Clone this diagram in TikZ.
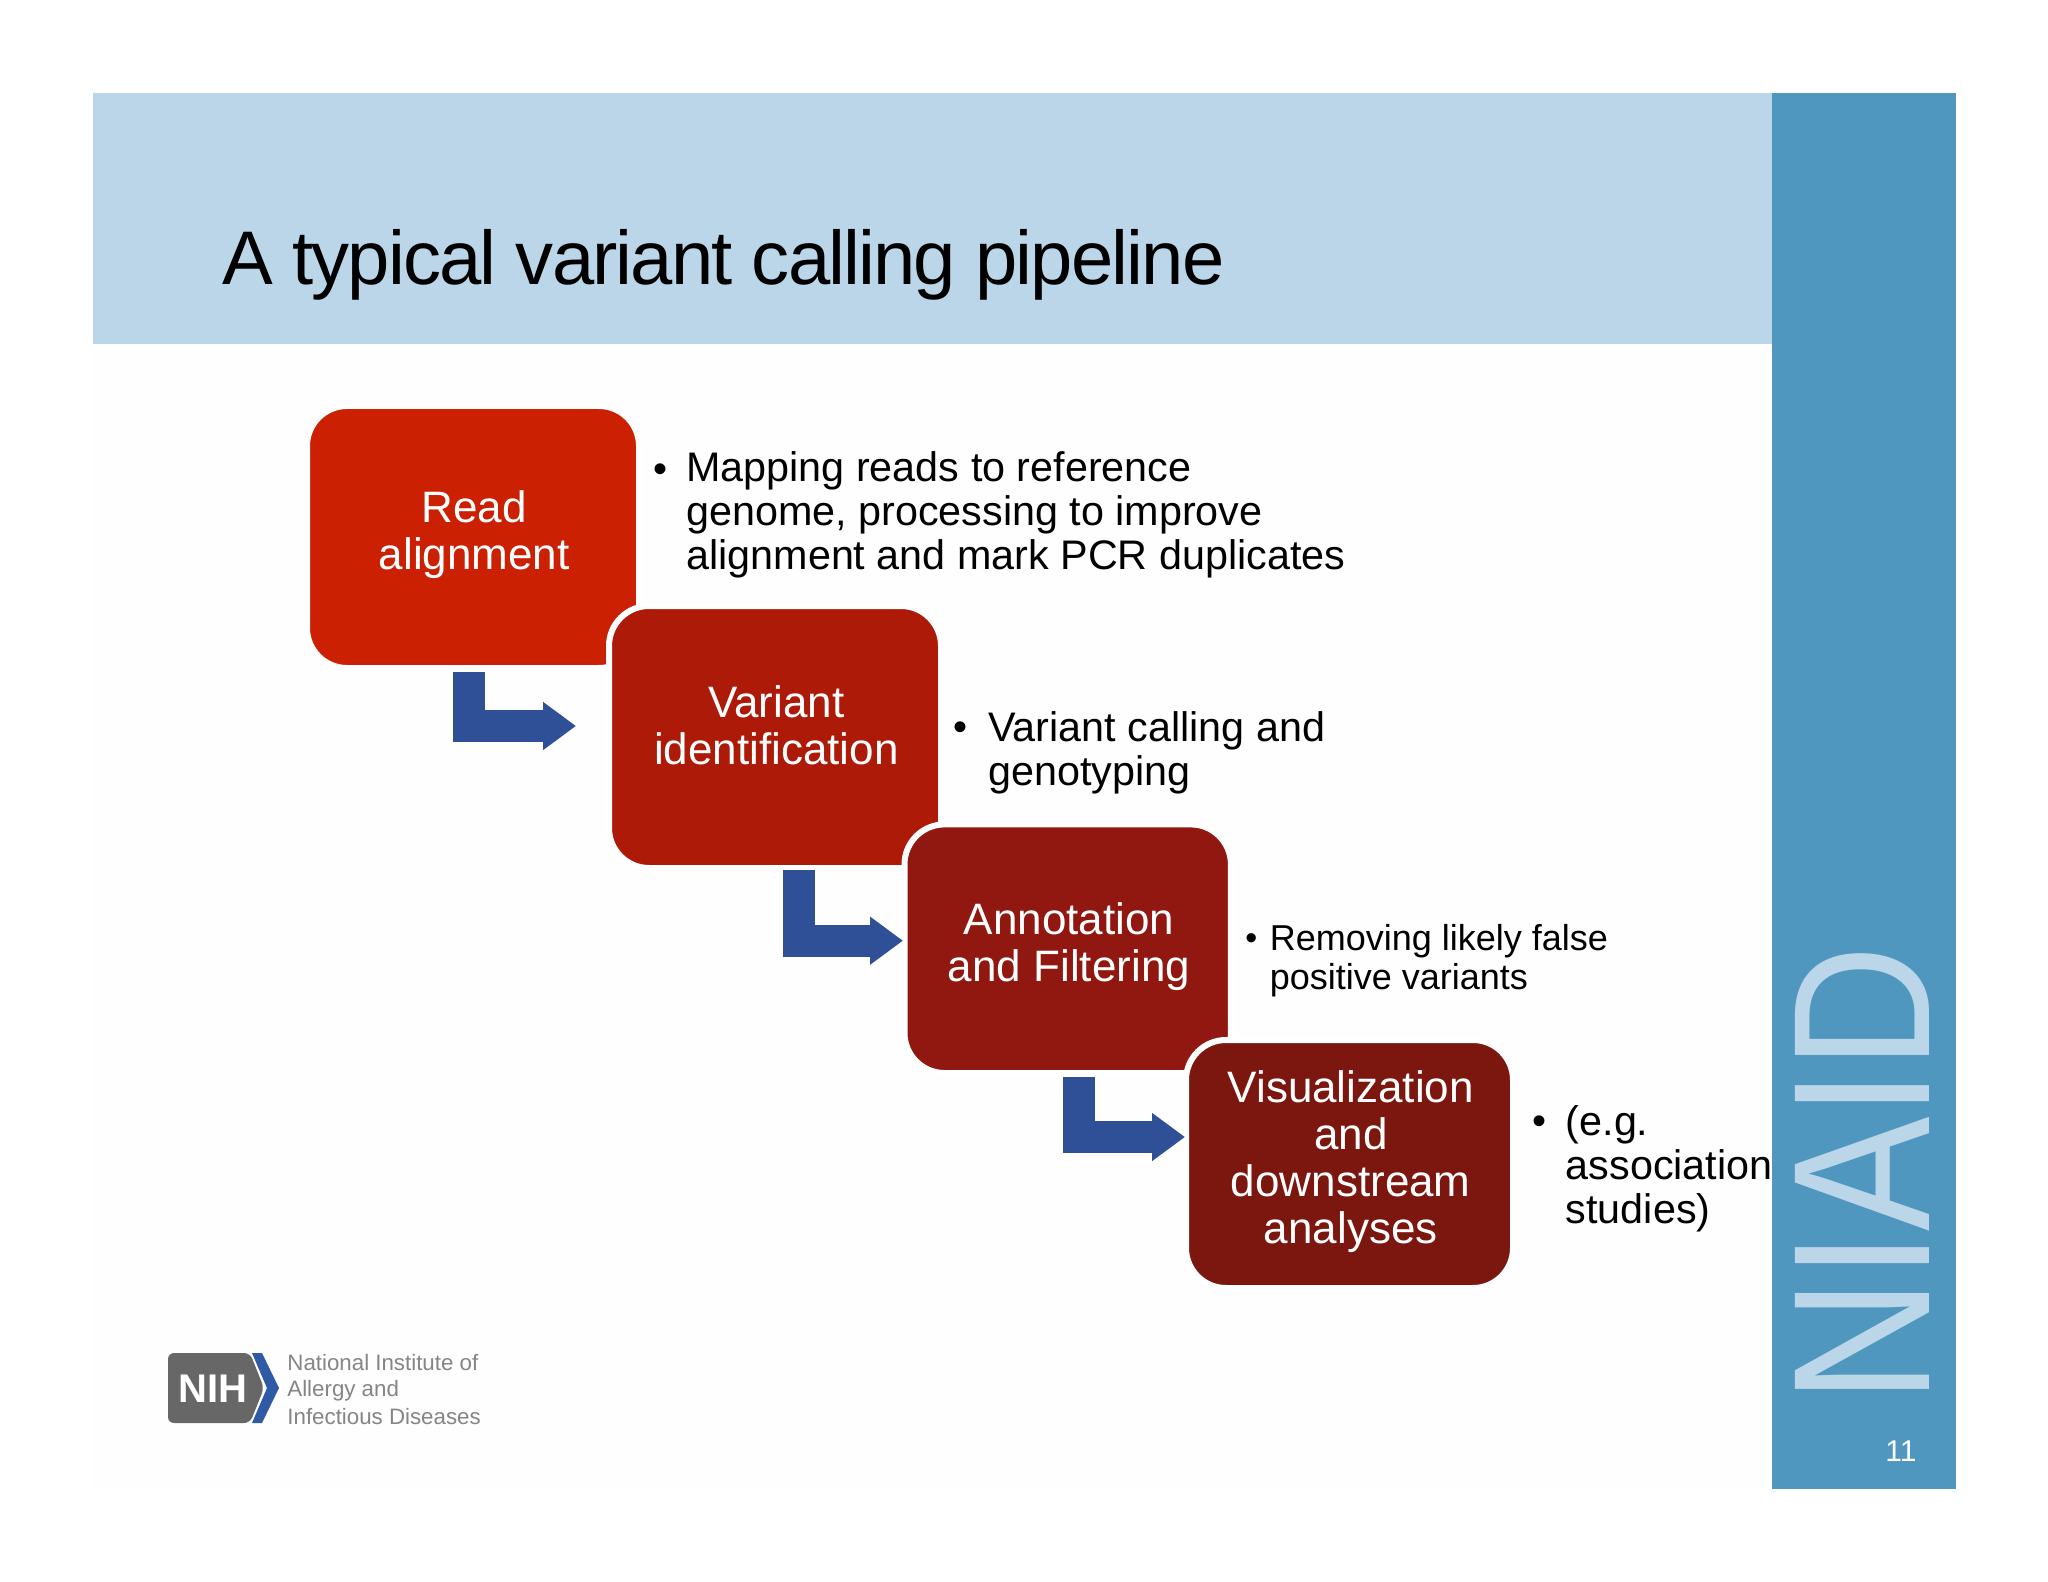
\documentclass[tikz,border=0pt]{standalone}
\usepackage{fontspec}
\setmainfont{Liberation Sans}
\usetikzlibrary{arrows.meta,calc}
\definecolor{bandblue}{HTML}{BAD6E8}
\definecolor{sideblue}{HTML}{5097BF}
\definecolor{arrowblue}{HTML}{2F5096}
\definecolor{boxa}{HTML}{CB2002}
\definecolor{boxb}{HTML}{AE1A08}
\definecolor{boxc}{HTML}{911810}
\definecolor{boxd}{HTML}{7C1710}
\definecolor{nihgrey}{HTML}{676767}
\definecolor{nihblue}{HTML}{2F5BA5}
\definecolor{nihtext}{HTML}{858585}
\newcommand\boxlabel[2]{\hspace*{1.3pt}\raisebox{#1}[0pt][0pt]{\begin{tabular}{@{}c@{}}#2\end{tabular}}}
\tikzset{
  x=0.5pt,y=-0.5pt,
  stepbox/.style={rounded corners=20pt,draw=white,line width=3pt,text=white,align=center,
    inner sep=0pt,font=\fontsize{22}{23.6}\selectfont},
  listbig/.style={anchor=west,align=left,inner sep=0pt,font=\fontsize{20.65}{22}\selectfont},
  listsmall/.style={anchor=west,align=left,inner sep=0pt,font=\fontsize{18}{19.6}\selectfont},
  bulletmark/.style={inner sep=0pt,font=\fontsize{20}{20}\selectfont},
  bentarrow/.style={draw=arrowblue,line width=16pt,-{Triangle[length=16.5pt,width=23pt,fill=arrowblue]}},
  logotext/.style={anchor=west,inner sep=0pt,text=nihtext,font=\fontsize{11.15}{11.15}\selectfont},
}
\begin{document}
\begin{tikzpicture}
\useasboundingbox (0,0) rectangle (2048,1582);
\fill[white] (0,0) rectangle (2048,1582);
\fill[white!99.6!black] (93,344) rectangle (1772,1489);
\fill[bandblue] (93,93) rectangle (1774,344);
\fill[sideblue] (1772,93) rectangle (1956,1489);
\node[anchor=base west,inner sep=0pt,font=\fontsize{38}{40}\selectfont\addfontfeature{LetterSpace=-2.45}] (title) at (222,285) {A typical variant calling pipeline};
\node[rotate=90,anchor=base west,inner sep=0pt,text=bandblue,font=\fontsize{97.5}{98}\selectfont] (niaid) at (1929,1404) {\scalebox{.881}[1]{NIAID}};
\node[inner sep=0pt,text=white,font=\fontsize{15}{15}\selectfont] (pagenum) at (1901,1451.5) {11};
% boxes
\node[stepbox,fill=boxa,minimum width=166pt,minimum height=131pt] (read) at (473,537) {\boxlabel{-5pt}{Read\\alignment}};
\node[stepbox,fill=boxb,minimum width=166pt,minimum height=131pt] (variant) at (775,737) {\boxlabel{-2.5pt}{Variant\\identification}};
\node[stepbox,fill=boxc,minimum width=163.2pt,minimum height=124.3pt] (annot) at (1067.7,948.7) {\boxlabel{-5.15pt}{Annotation\\and Filtering}};
\node[stepbox,fill=boxd,minimum width=163.5pt,minimum height=124pt] (visual) at (1349.5,1164) {\boxlabel{-5pt}{Visualization\\and\\downstream\\analyses}};
% connectors
\draw[bentarrow] ($(read.south)+(-4,0.5)$) |- ($(variant.west)+(-30,-11)$);
\draw[bentarrow] ($(variant.south)+(24,-1)$) |- ($(annot.west)+(1.5,-8)$);
\draw[bentarrow] ($(annot.south)+(11,1)$) |- ($(visual.west)+(2,-27)$);
% lists
\node[bulletmark] (ba) at (660,473) {•};
\node[listbig] (la) at (686,515.2) {Mapping reads to reference\\genome, processing to improve\\alignment and mark PCR duplicates};
\node[bulletmark] (bb) at (960,731) {•};
\node[listbig] (lb) at (988,753) {Variant calling and\\genotyping};
\node[bulletmark,font=\fontsize{17}{17}\selectfont] (bc) at (1251.4,941.6) {•};
\node[listsmall] (lc) at (1269.4,960.3) {Removing likely false\\positive variants};
\node[bulletmark] (bd) at (1539,1125) {•};
\node[listbig] (ld) at (1565.4,1169.3) {(e.g.\\association\\studies)};
% logo
\fill[nihgrey,rounded corners=3pt] (168,1353) -- (250,1353) -- (264,1388) -- (250,1423) -- (168,1423) -- cycle;
\fill[nihblue] (252,1353) -- (262,1353) -- (279,1388) -- (262,1423) -- (252,1423) -- (267,1388) -- cycle;
\node[inner sep=0pt,text=white,font=\bfseries\fontsize{20}{20}\selectfont] (nih) at (213,1389) {NIH};
\node[logotext] (lga) at (287,1362.5) {National Institute of};
\node[logotext] (lgb) at (287,1391) {Allergy and};
\node[logotext] (lgc) at (287,1417) {Infectious Diseases};
\end{tikzpicture}
\end{document}
